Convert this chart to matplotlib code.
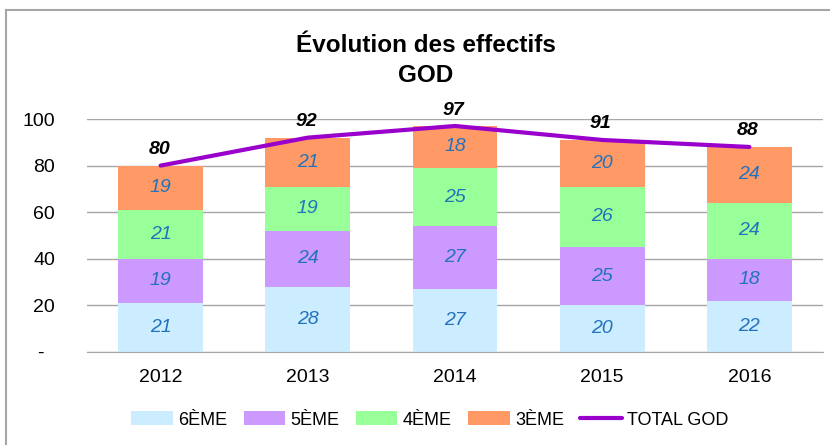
import numpy as np
import matplotlib.pyplot as plt
from matplotlib.lines import Line2D

plt.rcParams['font.family'] = ['Liberation Sans Narrow', 'Liberation Sans', 'DejaVu Sans']

years = ['2012', '2013', '2014', '2015', '2016']
sixieme = [21, 28, 27, 20, 22]
cinquieme = [19, 24, 27, 25, 18]
quatrieme = [21, 19, 25, 26, 24]
troisieme = [19, 21, 18, 20, 24]
total_god = [80, 92, 97, 91, 88]

series = [
    ('6ÈME', sixieme, '#CCECFF'),
    ('5ÈME', cinquieme, '#CC99FF'),
    ('4ÈME', quatrieme, '#99FF99'),
    ('3ÈME', troisieme, '#FF9966'),
]

fig = plt.figure(figsize=(8.3, 4.45), dpi=100)
ax = fig.add_axes([87 / 830, 1 - 352 / 445, (823 - 87) / 830, (352 - 119) / 445])

x = np.arange(len(years))
bottom = np.zeros(len(years))
handles = []
for name, vals, col in series:
    vals = np.array(vals)
    h = ax.bar(x, vals, 0.575, bottom=bottom, color=col, label=name, zorder=2)
    handles.append(h)
    for xi, b, v in zip(x, bottom, vals):
        ax.text(xi, b + v / 2, str(v), ha='center', va='center', fontsize=14,
                style='italic', color='#2372BD', zorder=4)
    bottom = bottom + vals

line, = ax.plot(x, total_god, color='#9900CC', lw=3, label='TOTAL GOD', zorder=3,
                solid_capstyle='round')
handles.append(line)
for xi, v in zip(x, total_god):
    ax.annotate(str(v), (xi, v), xytext=(-1, 11.5), textcoords='offset points',
                ha='center', va='center', fontsize=14, fontweight='bold',
                style='italic', color='black', annotation_clip=False)

ax.set_xlim(-0.5, len(years) - 0.5)
ax.set_ylim(0, 100)
ax.set_yticks([0, 20, 40, 60, 80, 100])
ax.set_yticklabels(['-  ', '20', '40', '60', '80', '100'])
ax.set_xticks(x)
ax.set_xticklabels(years)
ax.tick_params(axis='y', length=0, pad=23, labelsize=14)
ax.tick_params(axis='x', length=0, pad=12, labelsize=14)
ax.yaxis.grid(True, color='#A6A6A6', lw=1, zorder=0)
ax.set_axisbelow(True)
for s in ['top', 'right', 'left']:
    ax.spines[s].set_visible(False)
ax.spines['bottom'].set_color('#A6A6A6')

fig.text(426 / 830, 1 - 45 / 445, 'Évolution des effectifs', ha='center', va='center',
         fontsize=17.5, fontweight='bold')
fig.text(426 / 830, 1 - 76 / 445, 'GOD', ha='center', va='center',
         fontsize=17.5, fontweight='bold')

fig.legend(handles, [h.get_label() for h in handles], loc='center',
           bbox_to_anchor=(430 / 830, 1 - 420 / 445), ncol=5,
           frameon=False, fontsize=13, handlelength=2.3, handleheight=0.8,
           handletextpad=0.3, columnspacing=0.9)

fig.add_artist(Line2D([6 / 830, 6 / 830], [0, 1 - 10 / 445], color='#A6A6A6', lw=1.5))
fig.add_artist(Line2D([6 / 830, 1], [1 - 10 / 445, 1 - 10 / 445], color='#A6A6A6', lw=1.5))

fig.savefig('out.png', dpi=100)
